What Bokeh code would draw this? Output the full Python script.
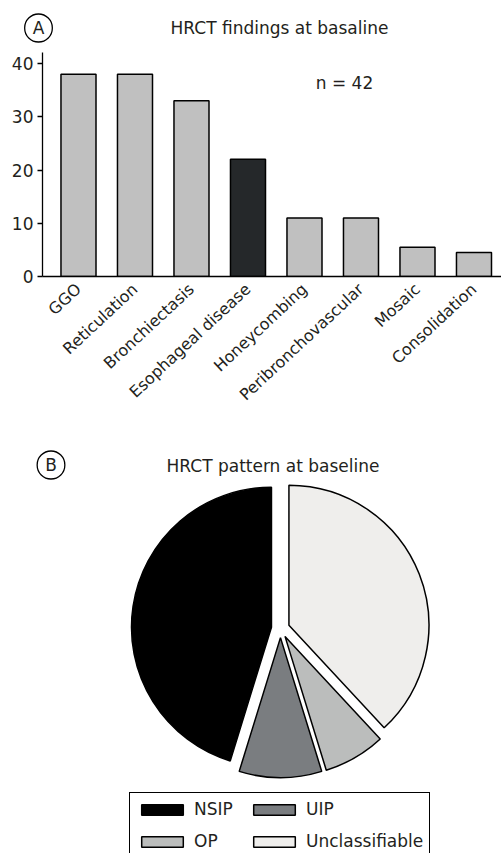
import math
from bokeh.plotting import figure
from bokeh.models import Range1d, FixedTicker, Label, Legend, LegendItem, ColumnDataSource
from bokeh.layouts import column, row
from bokeh.embed import file_html
from bokeh.resources import INLINE

# ---- data ----
findings = ["GGO", "Reticulation", "Bronchiectasis", "Esophageal disease",
            "Honeycombing", "Peribronchovascular", "Mosaic", "Consolidation"]
finding_counts = [38, 38, 33, 22, 11, 11, 5.5, 4.5]
finding_colors = ["#c0c0c0", "#c0c0c0", "#c0c0c0", "#25282a",
                  "#c0c0c0", "#c0c0c0", "#c0c0c0", "#c0c0c0"]
y_ticks = [0, 10, 20, 30, 40]

patterns = ["NSIP", "UIP", "OP", "Unclassifiable"]
pattern_counts = [19, 4, 3, 16]
pattern_colors = ["#000000", "#7a7d80", "#bbbdbc", "#efeeec"]

FONT = "DejaVu Sans"
TXT = "#231f20"


def circled(letter, x, y):
    return Label(x=x, y=y, x_units="screen", y_units="screen", text=letter,
                 text_align="center", text_baseline="middle", text_font=FONT,
                 text_font_size="17px", text_color=TXT,
                 border_line_color="black", border_line_width=1.3,
                 border_radius=14, padding=(8, 4))


# ---- header of panel A ----
head = figure(width=501, height=52, x_range=Range1d(0, 1), y_range=Range1d(0, 1),
              output_backend="svg", toolbar_location=None,
              x_axis_location=None, y_axis_location=None,
              min_border_left=0, min_border_right=0, min_border_top=0, min_border_bottom=0)
head.grid.visible = False
head.outline_line_color = None
head.add_layout(circled("A", 38, 24.5))
head.add_layout(Label(x=279, y=25, x_units="screen", y_units="screen",
                      text="HRCT findings at basaline", text_align="center",
                      text_baseline="middle", text_font=FONT, text_font_size="17px",
                      text_color=TXT))

# ---- bar chart (A) ----
idx = list(range(len(findings)))
p1 = figure(width=501, height=381, x_range=Range1d(-0.637, 7.487), y_range=Range1d(0, 42.07),
            output_backend="svg", toolbar_location=None,
            min_border_left=42, min_border_right=0, min_border_top=0, min_border_bottom=157)
p1.vbar(x=idx, top=finding_counts, width=0.62, fill_color=finding_colors,
        line_color="black", line_width=1.5)
p1.grid.visible = False
p1.outline_line_color = None

p1.yaxis.ticker = FixedTicker(ticks=y_ticks)
p1.yaxis.minor_tick_line_color = None
p1.yaxis.major_tick_out = 5
p1.yaxis.major_tick_in = 0
p1.yaxis.axis_line_width = 1.3
p1.yaxis.major_tick_line_width = 1.3
p1.yaxis.major_label_text_font = FONT
p1.yaxis.major_label_text_font_size = "17px"
p1.yaxis.major_label_text_color = TXT
p1.yaxis.major_label_standoff = 4

p1.xaxis.ticker = FixedTicker(ticks=idx)
p1.xaxis.major_label_overrides = {i: f for i, f in zip(idx, findings)}
p1.xaxis.major_tick_out = 0
p1.xaxis.major_tick_in = 0
p1.xaxis.minor_tick_line_color = None
p1.xaxis.axis_line_width = 1.3
p1.xaxis.major_label_orientation = 0.75
p1.xaxis.major_label_standoff = 10
p1.xaxis.major_label_text_font = FONT
p1.xaxis.major_label_text_font_size = "16px"
p1.xaxis.major_label_text_color = TXT

p1.add_layout(Label(x=302, y=194, x_units="screen", y_units="screen",
                    text="n = 42", text_align="center", text_baseline="middle",
                    text_font=FONT, text_font_size="17px", text_color=TXT))

# ---- pie chart (B) ----
total = sum(pattern_counts)
starts, ends, xs, ys = [], [], [], []
explode = 0.065
a = math.pi / 2
for c in pattern_counts:
    b = a + 2 * math.pi * c / total
    m = (a + b) / 2
    starts.append(a)
    ends.append(b)
    xs.append(explode * math.cos(m))
    ys.append(explode * math.sin(m))
    a = b

src = ColumnDataSource(dict(x=xs, y=ys, start=starts, end=ends,
                            color=pattern_colors, name=patterns))
p2 = figure(width=501, height=420, x_range=Range1d(-2.0, 1.579), y_range=Range1d(-1.607, 1.393),
            output_backend="svg", toolbar_location=None,
            x_axis_location=None, y_axis_location=None,
            min_border_left=0, min_border_right=0, min_border_top=0, min_border_bottom=0)
r = p2.wedge(x="x", y="y", radius=1, start_angle="start", end_angle="end",
             fill_color="color", line_color="black", line_width=1.5, source=src)
p2.grid.visible = False
p2.outline_line_color = None

items = [LegendItem(label=n, renderers=[r], index=i) for i, n in enumerate(patterns)]
legend = Legend(items=items, location=(129, -5), orientation="horizontal", ncols=2,
                glyph_width=52, glyph_height=13, label_height=14, label_width=42,
                spacing=12, label_standoff=6, padding=6,
                border_line_color="black", border_line_width=1.5, border_line_alpha=1,
                background_fill_color="white", background_fill_alpha=1,
                label_text_font=FONT, label_text_font_size="17px", label_text_color=TXT)
p2.add_layout(legend)

p2.add_layout(circled("B", 50.5, 388.5))
p2.add_layout(Label(x=272.5, y=388, x_units="screen", y_units="screen",
                    text="HRCT pattern at baseline", text_align="center",
                    text_baseline="middle", text_font=FONT, text_font_size="17px",
                    text_color=TXT))

layout = column(row(head), row(p1), row(p2), spacing=0)
open("out.html", "w").write(file_html(layout, INLINE))
